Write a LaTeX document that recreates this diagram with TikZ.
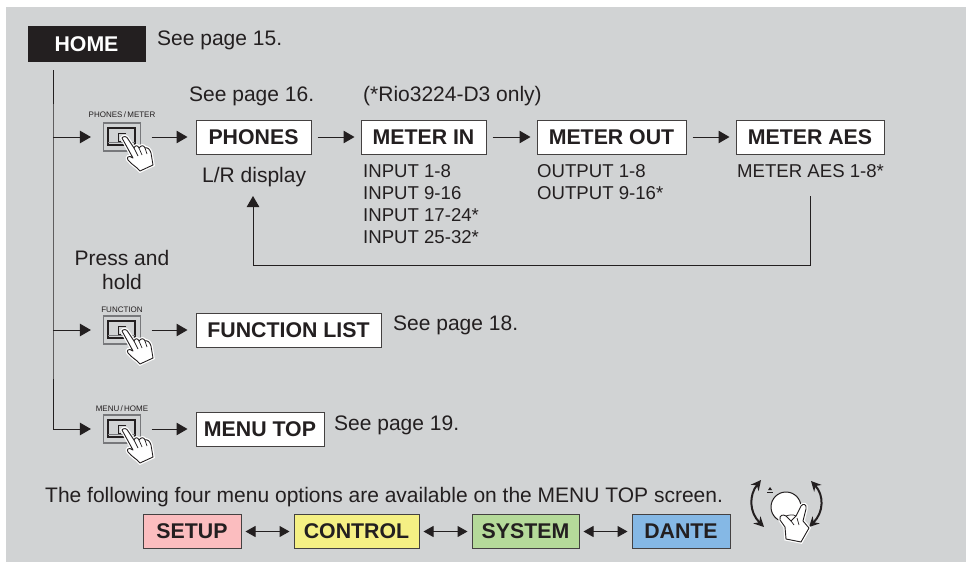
\documentclass[tikz,border=0pt]{standalone}
\usepackage{fontspec}
\setmainfont{Liberation Sans}
\usetikzlibrary{arrows.meta,calc}
\definecolor{bggray}{HTML}{D1D3D4}
\definecolor{ink}{HTML}{231F20}
\definecolor{btngray}{HTML}{77787B}
\definecolor{csetup}{HTML}{FBBDBF}
\definecolor{ccontrol}{HTML}{F5F084}
\definecolor{csystem}{HTML}{B5DA9A}
\definecolor{cdante}{HTML}{85B8E5}
\tikzset{
  x=1pt,y=-1pt,
  conn/.style={draw=ink,line width=1pt,-{Triangle[length=11pt,width=12.5pt]}},
  dconn/.style={draw=ink,line width=1pt,{Triangle[length=10pt,width=11pt]}-{Triangle[length=10pt,width=11pt]}},
  plain/.style={draw=ink,line width=1pt,line cap=rect},
  tbox/.style={draw=ink!85,line width=1pt,fill=white,font=\fontsize{21.3}{24}\selectfont\bfseries,text=ink,inner sep=0pt,minimum height=34pt,anchor=center},
  lab/.style={font=\fontsize{21}{24}\selectfont,text=ink,inner sep=0pt,anchor=base west,align=left},
  sublab/.style={font=\fontsize{18.6}{22}\selectfont,text=ink,inner sep=0pt,anchor=north west,align=left},
  btnlab/.style={font=\fontsize{8}{8}\selectfont,text=ink,inner sep=0pt,anchor=center},
  btnnode/.style={minimum width=37pt,minimum height=28pt,inner sep=0pt,draw=btngray,line width=1.2pt},
  hand/.style={draw=ink,line width=0.9pt,fill=white,line join=round,preaction={draw=white,line width=3.4pt}},
  dialarrow/.style={draw=ink,line width=2pt,{Stealth[length=10pt,width=10pt]}-{Stealth[length=10pt,width=10pt]}},
}
\newcommand{\btnicon}[3]{% name, cx, cy
  \node[btnnode] (#1) at (#2,#3) {};
  \begin{scope}[shift={(#2,#3)}]
    \draw[ink,line width=1.3pt] (-14,-9) rectangle (13,8);
    \draw[btngray,line width=1pt] (-14,5) -- (13,5);
    \draw[ink,line width=0.9pt] (4,-4) -- (-4,-4) -- (-4,4) -- (-1,4);
    \draw[hand]
      (0,1) .. controls (1,-1) and (5,-1) .. (6,2)
      -- (12,11) .. controls (13,8) and (16,8) .. (17,11)
      .. controls (19,8) and (22,8) .. (23,11)
      .. controls (25,10) and (28,12) .. (29,16)
      -- (31,28) -- (18,34)
      .. controls (15,30) and (10,28) .. (6,23)
      .. controls (4,20) and (7,18) .. (11,21) -- cycle;
    \draw[ink,line width=0.7pt] (12,11) -- (16,19) (17,11) -- (20,18) (23,11) -- (25,17);
  \end{scope}
}
\begin{document}
\begin{tikzpicture}
\useasboundingbox (0,0) rectangle (966,562);
\fill[white] (0,0) rectangle (966,562);
\fill[bggray] (6,7) rectangle (966,562);

\node[draw=ink,fill=ink,text=white,font=\fontsize{21.3}{24}\selectfont\bfseries,minimum width=117pt,minimum height=35pt,inner sep=0pt] (home) at (86.5,44) {HOME};
\node[lab] (p15) at (157,45) {See page 15.};
\node[lab] (p16) at (189,101) {See page 16.};
\node[lab] (rio) at (363,101) {(*Rio3224-D3 only)};

\btnicon{b1}{122}{137}
\btnicon{b2}{122}{330}
\btnicon{b3}{122}{429}
\node[btnlab] (b1l) at (122,115) {PHONES\,/\,METER};
\node[btnlab] (b2l) at (122,310) {FUNCTION};
\node[btnlab] (b3l) at (122,409) {MENU\,/\,HOME};

\node[tbox,minimum width=115pt] (phones) at (253.5,137) {PHONES};
\node[tbox,minimum width=125pt] (mi) at (423.5,137) {METER IN};
\node[tbox,minimum width=149pt] (mo) at (611.5,137) {METER OUT};
\node[tbox,minimum width=148pt] (ma) at (810,137) {METER AES};
\node[tbox,minimum width=185pt] (fl) at (288.5,330) {FUNCTION LIST};
\node[tbox,minimum width=128pt] (mt) at (260,429) {MENU TOP};

\node[lab] (lr) at (202,182) {L/R display};
\node[sublab] (smi) at (363,164) {INPUT 1-8\\INPUT 9-16\\INPUT 17-24*\\INPUT 25-32*};
\node[sublab] (smo) at (537,164) {OUTPUT 1-8\\OUTPUT 9-16*};
\node[sublab] (sma) at (737,164) {METER AES 1-8*};
\node[lab,align=center,anchor=north] (ph) at (122,250) {Press and\\hold};
\node[lab] (p18) at (393,330) {See page 18.};
\node[lab] (p19) at (334,430) {See page 19.};
\node[lab] (four) at (45,502) {The following four menu options are available on the MENU TOP screen.};

\coordinate (trunkT) at (53,70);
\coordinate (j1) at (53,137);
\coordinate (j2) at (53,330);
\coordinate (j3) at (53,429);
\draw[plain] (trunkT) -- (j1) -- (j2) -- (j3);
\draw[conn] (j1) -- ($(b1.west)+(-12,0)$);
\draw[conn] (j2) -- ($(b2.west)+(-12,0)$);
\draw[conn] (j3) -- ($(b3.west)+(-12,0)$);
\draw[conn] ($(b1.east)+(10.5,0)$) -- ($(phones.west)+(-8,0)$);
\draw[conn] ($(b2.east)+(10.5,0)$) -- ($(fl.west)+(-8,0)$);
\draw[conn] ($(b3.east)+(10.5,0)$) -- ($(mt.west)+(-8,0)$);
\draw[conn] ($(phones.east)+(6,0)$) -- ($(mi.west)+(-6,0)$);
\draw[conn] ($(mi.east)+(6,0)$) -- ($(mo.west)+(-6,0)$);
\draw[conn] ($(mo.east)+(6,0)$) -- ($(ma.west)+(-6,0)$);
\coordinate (r1) at (810,196);
\coordinate (r2) at (810,265);
\coordinate (r3) at (253,265);
\coordinate (r4) at (253,196);
\draw[plain] (r1) -- (r2) -- (r3);
\draw[conn] (r3) -- (r4);

\node[tbox,fill=csetup,minimum width=98pt] (setup) at (192,531.5) {SETUP};
\node[tbox,fill=ccontrol,minimum width=125pt] (control) at (356.5,531.5) {CONTROL};
\node[tbox,fill=csystem,minimum width=107pt] (system) at (525.5,531.5) {SYSTEM};
\node[tbox,fill=cdante,minimum width=98pt] (dante) at (681,531.5) {DANTE};
\draw[dconn] ($(setup.east)+(4,0)$) -- ($(control.west)+(-4,0)$);
\draw[dconn] ($(control.east)+(4,0)$) -- ($(system.west)+(-4,0)$);
\draw[dconn] ($(system.east)+(4,0)$) -- ($(dante.west)+(-4,0)$);

\node[draw=ink,fill=white,line width=1pt,circle,minimum size=30pt,inner sep=0pt] (dial) at (786,507) {};
\fill[ink] (770,487) -- (772,490) -- (768,490) -- cycle;
\draw[ink,line width=0.8pt] (767,492) -- (773,492);
\draw[dialarrow] (761,480) .. controls (749,495) and (749,512) .. (764,527);
\draw[dialarrow] (811,481) .. controls (824,495) and (824,512) .. (809,527);
\draw[hand]
  (796,516) -- (801,506) .. controls (803,503) and (807,504) .. (806,509)
  -- (803,521) -- (809,528) -- (801,542) -- (786,539)
  -- (785,527) -- (780,520) .. controls (779,515) and (783,514) .. (786,516)
  -- (791,521) -- cycle;
\draw[ink,line width=0.7pt] (786,516) .. controls (789,515) and (793,514) .. (796,516) (791,521) -- (794,525) (797,518) -- (799,525);
\end{tikzpicture}
\end{document}
